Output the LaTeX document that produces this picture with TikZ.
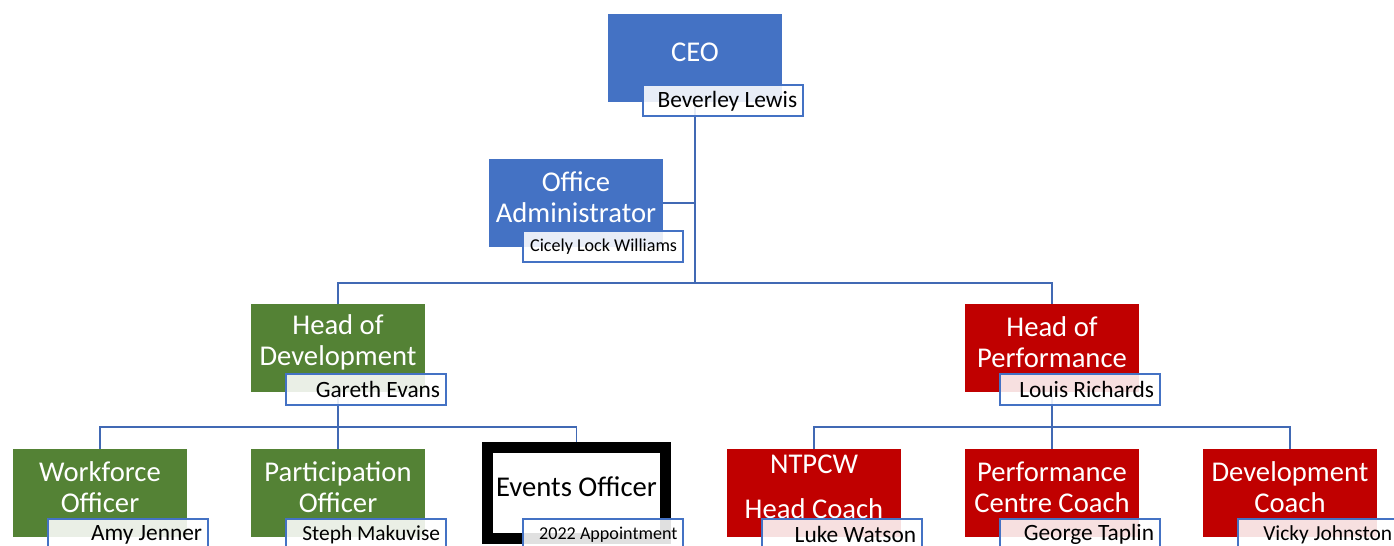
\documentclass[tikz,border=0pt]{standalone}
\usepackage{fontspec}
\setmainfont{Carlito}
\usetikzlibrary{calc,backgrounds}
\definecolor{ceoblue}{HTML}{4472C4}
\definecolor{devgreen}{HTML}{548235}
\definecolor{perfred}{HTML}{C00000}
\definecolor{linkblue}{HTML}{4169B4}
\newcommand{\staffname}[1]{\makebox[2.98cm][r]{#1}}
\tikzset{
	rolebox/.style={rectangle, minimum width=3.48cm, minimum height=1.76cm, inner sep=0pt},
	roletext/.style={text=white, align=center, inner sep=0pt, font=\fontsize{16.3}{17.6}\selectfont},
	namebox/.style={rectangle, draw=ceoblue, line width=1.1pt, fill=white, fill opacity=0.88, text opacity=1,
		minimum height=0.62cm, minimum width=3.2cm, inner xsep=0.11cm, inner ysep=0pt,
		anchor=north west, font=\fontsize{13.3}{15}\selectfont},
	smallname/.style={font=\fontsize{10.3}{12}\selectfont},
	tightname/.style={font=\fontsize{12.2}{14}\selectfont},
	link/.style={draw=linkblue, line width=1.1pt}
}
\begin{document}
\begin{tikzpicture}[x=0.02cm, y=-0.02cm]
			\useasboundingbox (0,0) rectangle (1394,546);
			\clip (0,0) rectangle (1394,546);
			% role boxes
			\node [rolebox, fill=ceoblue] (ceo) at (695,58) {};
			\node [rolebox, fill=ceoblue] (oa) at (576,203) {};
			\node [rolebox, fill=devgreen] (hd) at (338,348) {};
			\node [rolebox, fill=perfred] (hp) at (1052,348) {};
			\node [rolebox, fill=devgreen] (wo) at (100,493) {};
			\node [rolebox, fill=devgreen] (po) at (338,493) {};
			\node [rolebox, draw=black, fill=white, line width=6.2pt, minimum width=3.56cm, minimum height=1.82cm] (eo) at (576.5,493) {};
			\node [rolebox, fill=perfred] (nt) at (814,493) {};
			\node [rolebox, fill=perfred] (pc) at (1052,493) {};
			\node [rolebox, fill=perfred] (dc) at (1290,493) {};
			% role titles
			\node [roletext] (ceo-t) at ([yshift=3.4pt]ceo.center) {CEO};
			\node [roletext] (oa-t) at ([yshift=3.4pt]oa.center) {Office\\Administrator};
			\node [roletext] (hd-t) at ([yshift=3.4pt]hd.center) {Head of\\Development};
			\node [roletext] (hp-t) at ([yshift=3.4pt]hp.center) {Head of\\Performance};
			\node [roletext] (wo-t) at ([yshift=3.4pt]wo.center) {Workforce\\Officer};
			\node [roletext] (po-t) at ([yshift=3.4pt]po.center) {Participation\\Officer};
			\node [roletext, text=black] (eo-t) at ([yshift=3.4pt]eo.center) {Events Officer};
			\node [roletext] (nt-t) at ([yshift=3.4pt]nt.center) {NTPCW\\[8pt]Head Coach};
			\node [roletext] (pc-t) at ([yshift=3.4pt]pc.center) {Performance\\Centre Coach};
			\node [roletext] (dc-t) at ([yshift=3.4pt]dc.center) {Development\\Coach};
			% connectors
			\coordinate (split1) at (695,283);
			\coordinate (split2) at (338,427);
			\coordinate (split3) at (1052,427);
			\begin{scope}[on background layer]
				\draw [link] (ceo.south) -- (split1);
				\draw [link] (oa.east) -- (oa.east -| ceo.south);
				\draw [link] (hd.north) |- (split1) -| (hp.north);
				\draw [link] (hd.south) -- (split2);
				\draw [link] (wo.north) |- (split2) -| (eo.north);
				\draw [link] (po.north) -- (split2);
				\draw [link] (hp.south) -- (split3);
				\draw [link] (nt.north) |- (split3) -| (dc.north);
				\draw [link] (pc.north) -- (split3);
			\end{scope}
			% name boxes
			\node [namebox] (ceo-n) at ($(ceo.south west)+(34,-18)$) {\staffname{Beverley Lewis}};
			\node [namebox, smallname] (oa-n) at ($(oa.south west)+(33,-17)$) {\staffname{Cicely Lock Williams}};
			\node [namebox] (hd-n) at ($(hd.south west)+(34,-19)$) {\staffname{Gareth Evans}};
			\node [namebox] (hp-n) at ($(hp.south west)+(34,-19)$) {\staffname{Louis Richards}};
			\node [namebox] (wo-n) at ($(wo.south west)+(34,-19)$) {\staffname{Amy Jenner}};
			\node [namebox, tightname] (po-n) at ($(po.south west)+(34,-19)$) {\staffname{Steph Makuvise}};
			\node [namebox, smallname] (eo-n) at (522,518) {\staffname{2022 Appointment}};
			\node [namebox] (nt-n) at ($(nt.south west)+(34,-19)$) {\staffname{Luke Watson}};
			\node [namebox] (pc-n) at ($(pc.south west)+(34,-19)$) {\staffname{George Taplin}};
			\node [namebox, tightname] (dc-n) at ($(dc.south west)+(34,-19)$) {\staffname{Vicky Johnston}};
		\end{tikzpicture}
\end{document}
